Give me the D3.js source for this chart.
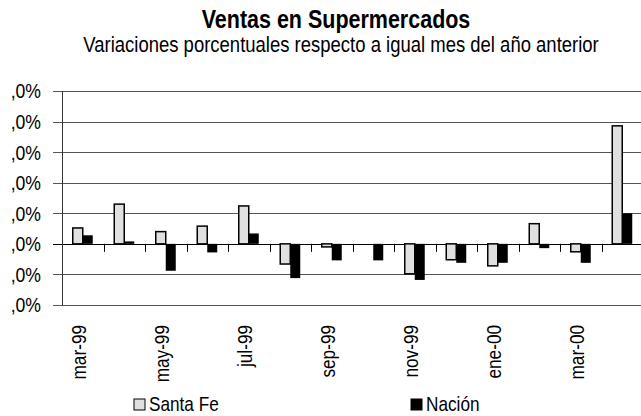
<!DOCTYPE html>
<meta charset="utf-8">
<script src="https://d3js.org/d3.v7.min.js"></script>
<style>
  body { margin: 0; background: #fff; }
  text { font-family: "Liberation Sans", Arial, sans-serif; fill: #000; }
</style>
<div id="chart"></div>
<script>

// data (percent change vs same month previous year)
var months = ["mar-99","abr-99","may-99","jun-99","jul-99","ago-99","sep-99",
              "oct-99","nov-99","dic-99","ene-00","feb-00","mar-00","abr-00"]
var santaFe = [2.6, 6.5, 2.0, 2.9, 6.2, -3.3, -0.5, 0.0, -4.9, -2.6, -3.6, 3.3, -1.3, 19.3]
var nacion  = [1.4, 0.4, -4.4, -1.4, 1.7, -5.6, -2.7, -2.7, -5.9, -3.1, -3.1, -0.7, -3.1, 5.0]
var yTicks = [-10, -5, 0, 5, 10, 15, 20, 25]
var labelMonths = ["mar-99","may-99","jul-99","sep-99","nov-99","ene-00","mar-00"]

var width = 641, height = 416
var narrow = 0.86   // the original font is condensed

var svg = d3.select("#chart")
  .append("svg")
    .attr("width", width)
    .attr("height", height)

var x = d3.scaleBand()
  .domain(months)
  .range([62, 643])

var y = d3.scaleLinear()
  .domain([-10, 25])
  .range([305, 91])

// title
svg.append("text")
  .attr("transform", "translate(336,28) scale(" + narrow + ",1)")
  .attr("text-anchor", "middle")
  .style("font-size", "25px")
  .style("font-weight", "bold")
  .text("Ventas en Supermercados")

svg.append("text")
  .attr("transform", "translate(341,52) scale(" + narrow + ",1)")
  .attr("text-anchor", "middle")
  .style("font-size", "21.5px")
  .text("Variaciones porcentuales respecto a igual mes del año anterior")

// gridlines
svg.append("g")
  .selectAll("line")
  .data(yTicks)
  .enter()
  .append("line")
    .attr("x1", 53)
    .attr("x2", 641)
    .attr("y1", function(d){ return Math.round(y(d)) + 0.5 })
    .attr("y2", function(d){ return Math.round(y(d)) + 0.5 })
    .attr("stroke", function(d){ return d === 0 ? "#000" : "#555" })
    .attr("stroke-width", 1)

// y labels, clipped at the left like the original
svg.append("clipPath")
  .attr("id", "ylab")
  .append("rect")
    .attr("x", 11).attr("y", 0).attr("width", 60).attr("height", height)

svg.append("g")
  .attr("clip-path", "url(#ylab)")
  .selectAll("text")
  .data(yTicks)
  .enter()
  .append("text")
    .attr("transform", function(d){ return "translate(41," + y(d) + ") scale(" + narrow + ",1)" })
    .attr("dy", "0.36em")
    .attr("text-anchor", "end")
    .style("font-size", "20.5px")
    .text(function(d){ return d3.format(".1f")(d).replace(".", ",") + "%" })

// y axis line
svg.append("line")
  .attr("x1", 62.5).attr("x2", 62.5)
  .attr("y1", y(25)).attr("y2", y(-10))
  .attr("stroke", "#333")

// category ticks on zero line
svg.append("g")
  .selectAll("line")
  .data(months.slice(1))
  .enter()
  .append("line")
    .attr("x1", function(d){ return Math.round(x(d)) + 0.5 })
    .attr("x2", function(d){ return Math.round(x(d)) + 0.5 })
    .attr("y1", y(0))
    .attr("y2", y(0) + 8)
    .attr("stroke", "#000")

// bars
var bw = 10
var groups = svg.append("g")
  .selectAll("g")
  .data(months)
  .enter()
  .append("g")

groups.append("rect")
  .attr("x", function(d){ return x(d) + x.bandwidth() / 2 - bw })
  .attr("width", bw)
  .attr("y", function(d, i){ return y(Math.max(0, santaFe[i])) })
  .attr("height", function(d, i){ return Math.abs(y(santaFe[i]) - y(0)) })
  .attr("fill", "#e0e0e0")
  .attr("stroke", "#000")
  .attr("stroke-width", 1.5)
  .style("display", function(d, i){ return santaFe[i] === 0 ? "none" : null })

groups.append("rect")
  .attr("x", function(d){ return x(d) + x.bandwidth() / 2 })
  .attr("width", bw)
  .attr("y", function(d, i){ return y(Math.max(0, nacion[i])) })
  .attr("height", function(d, i){ return Math.abs(y(nacion[i]) - y(0)) })
  .attr("fill", "#000")

// month labels, rotated
svg.append("g")
  .selectAll("text")
  .data(labelMonths)
  .enter()
  .append("text")
    .attr("transform", function(d){
      return "translate(" + (x(d) + x.bandwidth() / 2 - 4) + ",325) rotate(-90) scale(" + narrow + ",1)"
    })
    .attr("dy", "0.36em")
    .attr("text-anchor", "end")
    .style("font-size", "20px")
    .text(function(d){ return d })

// legend
var legend = [["Santa Fe", "#e0e0e0", 134], ["Nación", "#000", 411]]
var lg = svg.append("g")
  .selectAll("g")
  .data(legend)
  .enter()
  .append("g")
lg.append("rect")
  .attr("x", function(d){ return d[2] })
  .attr("y", 399)
  .attr("width", 11)
  .attr("height", 11)
  .attr("fill", function(d){ return d[1] })
  .attr("stroke", "#000")
lg.append("text")
  .attr("transform", function(d){ return "translate(" + (d[2] + 15) + ",411) scale(" + narrow + ",1)" })
  .style("font-size", "20px")
  .text(function(d){ return d[0] })

</script>
